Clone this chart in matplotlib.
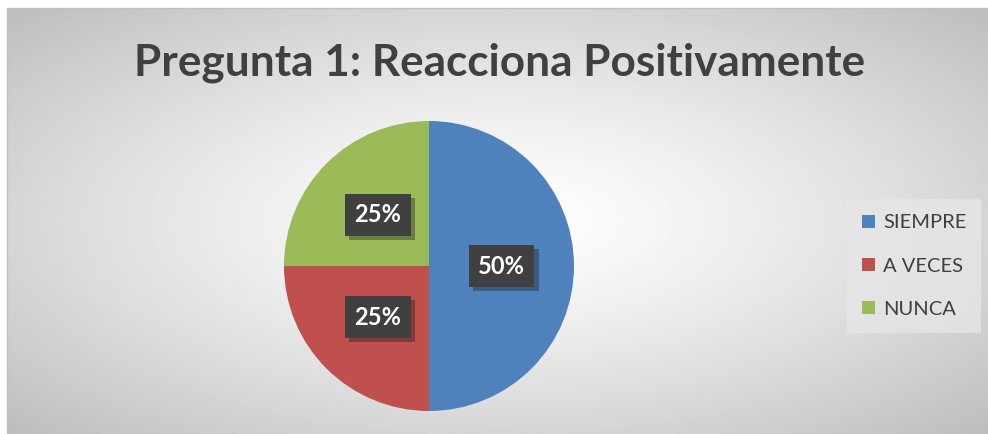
import numpy as np
import matplotlib
matplotlib.use('Agg')
import matplotlib.pyplot as plt
import matplotlib.patheffects as pe
from matplotlib.patches import Rectangle

# data
categorias = ['SIEMPRE', 'A VECES', 'NUNCA']
valores = [50, 25, 25]
colores = ['#4F81BD', '#C0504D', '#9BBB59']
titulo = 'Pregunta 1: Reacciona Positivamente'

plt.rcParams['font.family'] = ['Lato', 'DejaVu Sans']
plt.rcParams['hatch.color'] = '#555555'
plt.rcParams['hatch.linewidth'] = 1.2

W, H = 988, 434
fig = plt.figure(figsize=(W/100, H/100), dpi=100)
fig.patch.set_facecolor('white')

# radial gradient background (chart area)
bg = fig.add_axes([7/W, 0, 1 - 7/W, 1 - 8/H])
yy, xx = np.mgrid[-1:1:300j, -1:1:600j]
r = np.sqrt(xx**2 + yy**2) / np.sqrt(2)
bg.imshow(1 - 0.26*r**1.3, cmap='gray', vmin=0, vmax=1, aspect='auto',
          extent=[0, 1, 0, 1], interpolation='bilinear')
bg.set_xlim(0, 1)
bg.set_ylim(0, 1)
bg.axis('off')
fig.add_artist(Rectangle((7/W, -0.01), 1, 1 - 8/H + 0.01, transform=fig.transFigure,
                         fill=False, edgecolor='#c0c0c0', lw=1))

fig.text(500/W, 1 - 63/H, titulo, ha='center', va='center', fontsize=31.8,
         fontweight='bold', color='#404040')

cx, cy, rad = 429, 266, 145
ax = fig.add_axes([(cx - rad)/W, (H - cy - rad)/H, 2*rad/W, 2*rad/H])
wedges, _ = ax.pie(valores, colors=colores, startangle=90, counterclock=False,
                   radius=1)
ax.set_xlim(-1, 1)
ax.set_ylim(-1, 1)
ax.set_aspect('equal')

# data labels
total = sum(valores)
ang0 = 90
for v in valores:
    ang = ang0 - 360*v/total/2
    ang0 -= 360*v/total
    x = 0.5*np.cos(np.radians(ang))
    y = 0.5*np.sin(np.radians(ang))
    lbl = '%d%%' % round(100*v/total)
    t = ax.text(x, y, lbl, ha='center', va='center', fontsize=17, color='white',
                fontweight='bold',
                bbox=dict(boxstyle='square,pad=0.4', fc='#404040', ec='none', hatch='..'))
    t.get_bbox_patch().set_path_effects([pe.SimplePatchShadow(offset=(3, -3), alpha=0.35),
                                         pe.Normal()])

leg = fig.legend(wedges, categorias, loc='center', bbox_to_anchor=(914/W, 1 - 266/H),
                 frameon=True, fancybox=False, fontsize=14.5, handlelength=0.65,
                 handleheight=0.65, handletextpad=0.4, labelspacing=1.3,
                 borderpad=0.75, borderaxespad=0, labelcolor='#404040')
leg.get_frame().set_facecolor('#e6e6e6')
leg.get_frame().set_edgecolor('none')
leg.get_frame().set_alpha(0.8)

fig.savefig('out.png', dpi=100)
